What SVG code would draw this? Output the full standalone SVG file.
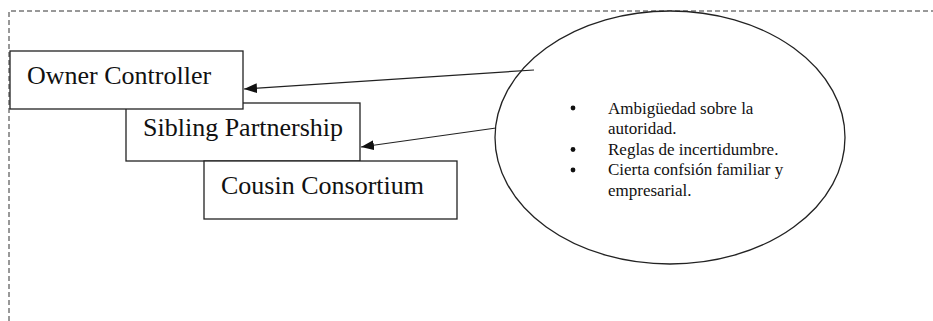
<svg xmlns="http://www.w3.org/2000/svg" width="933" height="321" viewBox="0 0 933 321">
<defs>
<style>
.box{fill:#fff;stroke:#222;stroke-width:1.3}
.lbl{font-family:"Liberation Serif","Times New Roman",serif;font-size:26px;fill:#111}
.small{font-family:"Liberation Serif","Times New Roman",serif;font-size:17px;fill:#111}
.conn{stroke:#222;stroke-width:1.2;fill:none;marker-end:url(#ah)}
.frame{stroke:#333;stroke-width:1;fill:none;stroke-dasharray:5 3}
</style>
<marker id="ah" markerWidth="13" markerHeight="10" refX="13" refY="5" orient="auto" markerUnits="userSpaceOnUse">
<path d="M0,0 L13,5 L0,10 Z" fill="#111"/>
</marker>
</defs>
<rect width="933" height="321" fill="#fff"/>
<path class="frame" d="M9,321 V11 H933"/>
<g id="sibling">
<rect class="box" x="126" y="103" width="234" height="58"/>
<text class="lbl" x="143" y="136">Sibling Partnership</text>
</g>
<g id="owner">
<rect class="box" x="10" y="51" width="233" height="58"/>
<text class="lbl" x="27" y="84">Owner Controller</text>
</g>
<g id="cousin">
<rect class="box" x="204" y="161" width="253" height="58"/>
<text class="lbl" x="221" y="194">Cousin Consortium</text>
</g>
<g id="ellipse">
<ellipse cx="670" cy="137.5" rx="175" ry="126.5" fill="#fff" stroke="#222" stroke-width="1.3"/>
<circle cx="573" cy="108" r="2.4" fill="#111"/>
<circle cx="573" cy="149.5" r="2.4" fill="#111"/>
<circle cx="573" cy="170" r="2.4" fill="#111"/>
<text class="small" x="608" y="113.5">Ambigüedad sobre la</text>
<text class="small" x="608" y="134">autoridad.</text>
<text class="small" x="608" y="154.5">Reglas de incertidumbre.</text>
<text class="small" x="608" y="175">Cierta confsión familiar y</text>
<text class="small" x="608" y="195.5">empresarial.</text>
</g>
<g id="connectors">
<line class="conn" x1="534" y1="70" x2="244" y2="89"/>
<line class="conn" x1="496" y1="128" x2="361" y2="147"/>
</g>
</svg>
